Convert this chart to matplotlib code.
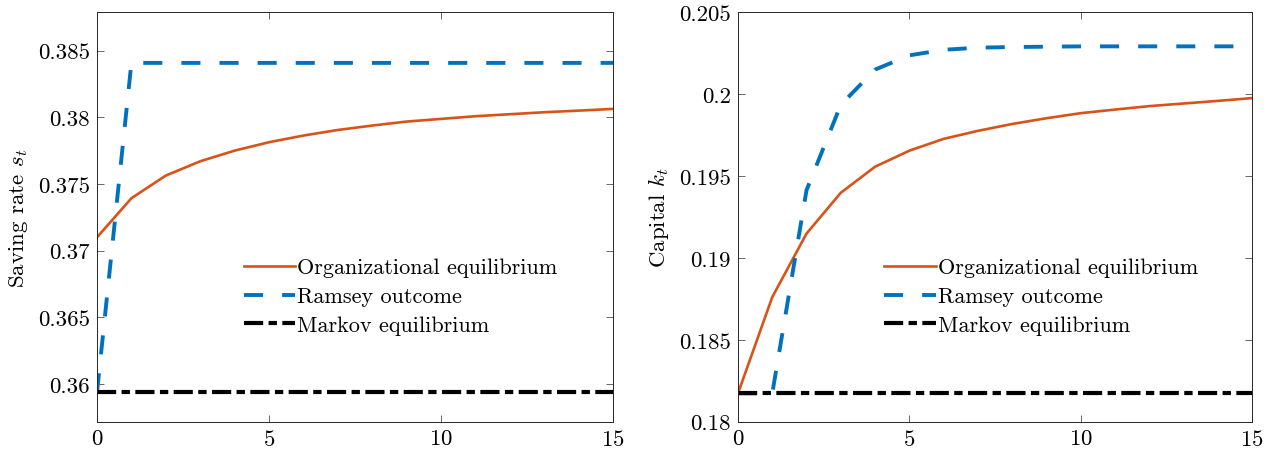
import matplotlib

matplotlib.use("Agg")
import matplotlib.pyplot as plt
import numpy as np

plt.rcParams["font.family"] = "serif"
plt.rcParams["font.serif"] = ["cmr10"]
plt.rcParams["mathtext.fontset"] = "cm"
plt.rcParams["axes.formatter.use_mathtext"] = True
plt.rcParams["axes.unicode_minus"] = False

periods = np.arange(16)

# saving rate s_t
saving_org = [0.3710, 0.37393, 0.37563, 0.3767, 0.3775, 0.37813, 0.37863, 0.37905,
              0.37938, 0.37968, 0.37988, 0.38008, 0.38023, 0.38038, 0.3805, 0.38063]
saving_ramsey = [0.35938] + [0.38408] * 15
saving_markov = [0.35938] * 16

# capital k_t
capital_org = [0.18173, 0.18761, 0.19149, 0.19398, 0.19557, 0.19655, 0.19727, 0.19776,
               0.19818, 0.19853, 0.19884, 0.19906, 0.19927, 0.19943, 0.19959, 0.19976]
capital_ramsey = [0.18173, 0.18173, 0.19414, 0.19935, 0.2015, 0.20237, 0.20271, 0.20284,
                  0.20288, 0.2029, 0.20292, 0.20292, 0.20292, 0.20292, 0.20292, 0.20292]
capital_markov = [0.18173] * 16

labels = ["Organizational equilibrium", "Ramsey outcome", "Markov equilibrium"]
c_org = "#D95319"
c_ram = "#0072BD"
fs = 16.5

fig = plt.figure(figsize=(12.83, 4.6), dpi=100)
ax1 = fig.add_axes([97 / 1283, 1 - 422.7 / 460, 516 / 1283, 409.4 / 460])
ax2 = fig.add_axes([738 / 1283, 1 - 422.7 / 460, 514 / 1283, 409.4 / 460])


def draw(ax, org, ram, mar):
    ax.plot(periods, org, color=c_org, lw=1.9, label=labels[0])
    ax.plot(periods, ram, color=c_ram, lw=2.8, dashes=(4.9, 4.9), label=labels[1])
    ax.plot(periods, mar, color="black", lw=3.0, dashes=(4.6, 1.3, 2.0, 1.3), label=labels[2])
    ax.set_xlim(0, 15)
    ax.set_xticks([0, 5, 10, 15])
    ax.tick_params(direction="in", length=5, width=0.6, color="0.3", labelsize=fs,
                   top=True, right=True, pad=5)
    for s in ax.spines.values():
        s.set_color("0.15")
        s.set_linewidth(0.7)
    ax.legend(loc="upper left", bbox_to_anchor=(0.285, 0.40), frameon=False, fontsize=16,
              handlelength=2.3, handletextpad=0.1, labelspacing=0.42, borderaxespad=0,
              borderpad=0)


draw(ax1, saving_org, saving_ramsey, saving_markov)
ax1.set_ylim(0.35717, 0.387875)
ax1.set_yticks([0.36, 0.365, 0.37, 0.375, 0.38, 0.385])
ax1.set_yticklabels(["0.36", "0.365", "0.37", "0.375", "0.38", "0.385"])
ax1.set_ylabel("Saving rate $s_t$", fontsize=fs, labelpad=6)

draw(ax2, capital_org, capital_ramsey, capital_markov)
ax2.set_ylim(0.18, 0.205)
ax2.set_yticks([0.18, 0.185, 0.19, 0.195, 0.2, 0.205])
ax2.set_yticklabels(["0.18", "0.185", "0.19", "0.195", "0.2", "0.205"])
ax2.set_ylabel("Capital $k_t$", fontsize=fs, labelpad=6)

fig.savefig("out.png", dpi=100)
